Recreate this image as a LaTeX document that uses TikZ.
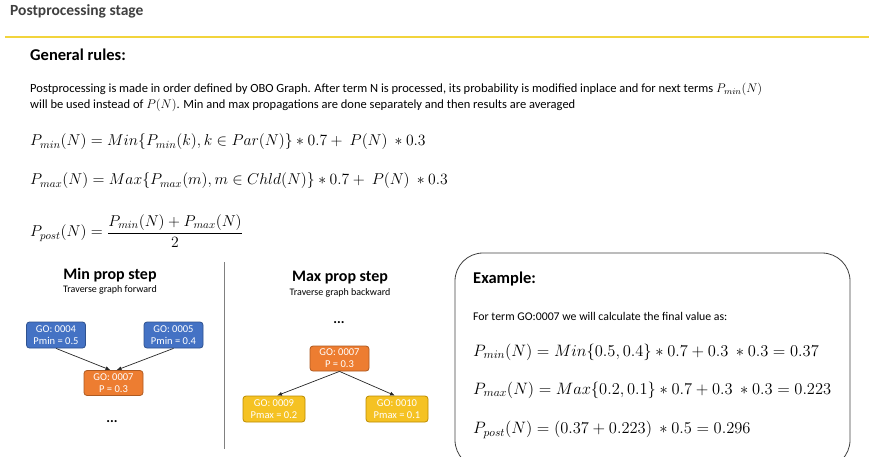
\RequirePackage{fix-cm}
\documentclass[tikz,border=0pt]{standalone}
\usepackage{fontspec}
\setmainfont{Carlito}
\usetikzlibrary{arrows.meta}

\definecolor{titlegray}{HTML}{404040}
\definecolor{rulegold}{HTML}{F2D43C}
\definecolor{minblue}{HTML}{4472C4}
\definecolor{minblueline}{HTML}{2F528F}
\definecolor{porange}{HTML}{ED7D31}
\definecolor{porangeline}{HTML}{AE5A21}
\definecolor{maxyellow}{HTML}{F5C223}
\definecolor{maxyellowline}{HTML}{BC8C00}

\tikzset{
  term/.style={draw, rounded corners=3pt, line width=0.8pt, minimum width=59pt,
    minimum height=26pt, inner sep=1pt, align=center, text=white,
    font=\fontsize{10.5}{12}\selectfont},
  minterm/.style={term, fill=minblue, draw=minblueline},
  pterm/.style={term, fill=porange, draw=porangeline},
  maxterm/.style={term, fill=maxyellow, draw=maxyellowline, minimum width=62pt},
  link/.style={-{Latex[length=5pt,width=4pt]}, line width=0.7pt, black!85},
  txt/.style={anchor=west, inner sep=0pt},
  head/.style={font=\fontsize{16}{18}\bfseries\selectfont},
  sub/.style={font=\fontsize{10}{12}\selectfont},
  bigmath/.style={txt, font=\fontsize{15.7}{20}\selectfont},
  more/.style={font=\fontsize{14}{14}\bfseries\selectfont},
}

\begin{document}
\begin{tikzpicture}[x=1pt,y=-1pt]
\useasboundingbox (0,0) rectangle (869,456);

% heading
\node[txt, text=titlegray, font=\fontsize{15.5}{18}\bfseries\selectfont] (title) at (10,11) {Postprocessing stage};
\draw[rulegold, line width=2pt] (5,37) -- (869,37);

% general rules
\node[txt, font=\fontsize{16.5}{18}\bfseries\selectfont] (rules) at (30,55) {General rules:};
\node[txt, font=\fontsize{12.5}{14}\selectfont] (intro1) at (30,89)
  {Postprocessing is made in order defined by OBO Graph. After term N is processed, its probability is modified inplace and for next terms $P_{min}(N)$};
\node[txt, font=\fontsize{12.5}{14}\selectfont] (intro2) at (30,105)
  {will be used instead of $P(N)$. Min and max propagations are done separately and then results are averaged};

\node[bigmath] (fmin) at (30,142) {$P_{min}(N) = Min\{P_{min}(k), k \in Par(N)\} * 0.7 +\ P(N)\ * 0.3$};
\node[bigmath] (fmax) at (30,181) {$P_{max}(N) = Max\{P_{max}(m), m \in Chld(N)\} * 0.7 +\ P(N)\ * 0.3$};
\node[bigmath] (fpost) at (30,231) {$\displaystyle P_{post}(N) = \frac{P_{min}(N) + P_{max}(N)}{2}$};

\draw[gray, line width=0.8pt] (224,262) -- (224,449);

% min prop step
\node[head] (minhead) at (110,275) {Min prop step};
\node[sub] (minsub) at (110,290) {Traverse graph forward};
\node[minterm] (go4) at (56,335) {GO: 0004\\Pmin = 0.5};
\node[minterm] (go5) at (173.5,335) {GO: 0005\\Pmin = 0.4};
\node[pterm, minimum height=25pt] (go7a) at (113.5,383) {GO: 0007\\P = 0.3};
\node[more] (dotsa) at (112,422) {...};
\draw[link] (go4.south) -- ([xshift=-3pt]go7a.north);
\draw[link] (go5.south) -- ([xshift=3pt]go7a.north);

% max prop step
\node[head] (maxhead) at (340,278) {Max prop step};
\node[sub] (maxsub) at (340,293) {Traverse graph backward};
\node[more] (dotsb) at (339,323) {...};
\node[pterm, minimum height=25pt] (go7b) at (339.5,358.5) {GO: 0007\\P = 0.3};
\node[maxterm] (go9) at (274,409) {GO: 0009\\Pmax = 0.2};
\node[maxterm] (go10) at (397,409) {GO: 0010\\Pmax = 0.1};
\draw[link] (go7b.south) -- ([xshift=3pt]go9.north);
\draw[link] (go7b.south) -- ([xshift=-2pt]go10.north);

% example
\draw[titlegray, line width=0.8pt, rounded corners=28pt] (455,253) rectangle (850,468);
\node[txt, font=\fontsize{16.5}{18}\bfseries\selectfont] (exhead) at (473,279) {Example:};
\node[txt, font=\fontsize{11.8}{14}\selectfont] (exintro) at (473,316) {For term GO:0007 we will calculate the final value as:};
\node[bigmath, font=\fontsize{16.5}{20}\selectfont] (exmin) at (473,352) {$P_{min}(N) = Min\{0.5, 0.4\} * 0.7 + 0.3\ * 0.3 = 0.37$};
\node[bigmath, font=\fontsize{16.5}{20}\selectfont] (exmax) at (473,390) {$P_{max}(N) = Max\{0.2, 0.1\} * 0.7 + 0.3\ * 0.3 = 0.223$};
\node[bigmath, font=\fontsize{16.5}{20}\selectfont] (expost) at (473,430) {$P_{post}(N) = (0.37 + 0.223)\ * 0.5 = 0.296$};
\end{tikzpicture}
\end{document}
